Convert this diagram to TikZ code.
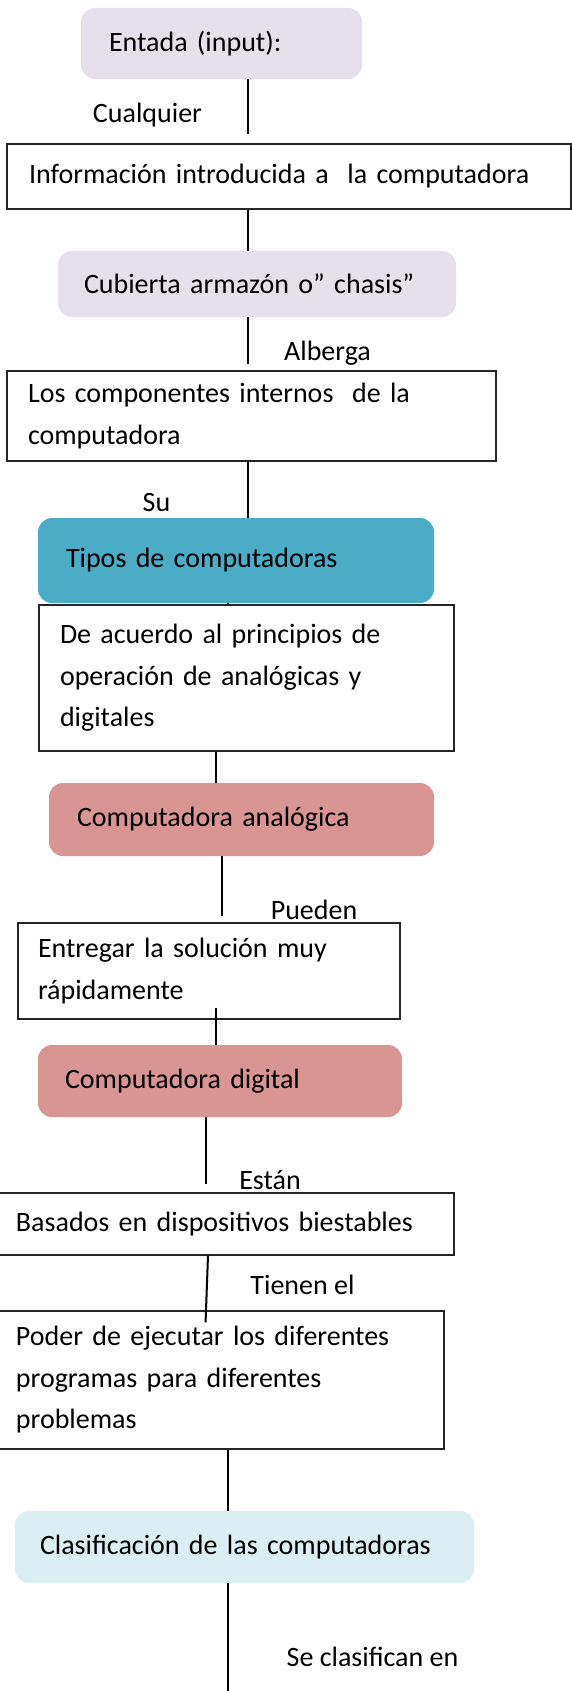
\documentclass[tikz,border=0pt]{standalone}
\usepackage{fontspec}
\setmainfont{Carlito}
\tikzset{
	caja/.style={draw=black!85,line width=0.6pt,align=left,inner ysep=0pt},redondo/.style={rounded corners=7pt,align=left,inner ysep=0pt},
	enlace/.style={draw=black,line width=1pt},etiqueta/.style={inner sep=0pt}
}
\definecolor{Lavanda}{HTML}{E5E0EC}
\definecolor{Turquesa}{HTML}{4BACC6}
\definecolor{Rosa}{HTML}{D99594}
\definecolor{Celeste}{HTML}{DBEEF3}

\begin{document}
\begin{tikzpicture}[x=0.5pt,y=-0.5pt,font=\fontsize{14pt}{20.75pt}\selectfont]
		\useasboundingbox (0,0) rectangle (572,1691);
		\node[redondo,fill=Lavanda,inner xsep=14pt,text width=112.5pt,minimum height=35.5pt] (E) at (221.5,43.5) {Entada (input):};
		\node[caja,inner xsep=11pt,text width=260pt,minimum height=32.5pt] (I) at (289,176.5) {Información introducida a\ \ la computadora};
		\node[redondo,fill=Lavanda,inner xsep=13pt,text width=173pt,minimum height=33pt] (C) at (257,284) {Cubierta armazón o” chasis”};
		\node[caja,inner xsep=10.5pt,text width=223.5pt,minimum height=45pt] (L) at (251.5,416) {Los componentes internos\ \ de la\\computadora};
		\node[redondo,fill=Turquesa,inner xsep=14pt,text width=170pt,minimum height=42.5pt] (T) at (236,560.5) {Tipos de computadoras};
		\node[caja,inner xsep=10.5pt,text width=186.5pt,minimum height=73pt] (A) at (246.5,678) {De acuerdo al principios de\\operación de analógicas y\\digitales};
		\node[redondo,fill=Rosa,inner xsep=14pt,text width=164.5pt,minimum height=36.5pt] (CA) at (241.5,819.5) {Computadora analógica};
		\node[caja,inner xsep=10pt,text width=171pt,minimum height=48pt] (S) at (209,971) {Entregar la solución muy\\rápidamente};
		\node[redondo,fill=Rosa,inner xsep=13.5pt,text width=155pt,minimum height=36pt] (CD) at (220,1081) {Computadora digital};
		\node[caja,inner xsep=8.5pt,text width=210.5pt,minimum height=31pt] (B) at (226.5,1224) {Basados en dispositivos biestables};
		\node[caja,inner xsep=8.5pt,text width=205.5pt,minimum height=69pt] (P) at (221.5,1380) {Poder de ejecutar los diferentes\\programas para diferentes\\problemas};
		\node[redondo,fill=Celeste,inner xsep=12.5pt,text width=204.5pt,minimum height=36pt] (CL) at (244.5,1547) {Clasificación de las computadoras};
		\node[etiqueta] (cualquier) at (147.5,115) {Cualquier};
		\node[etiqueta] (alberga) at (327.5,353) {Alberga};
		\node[etiqueta] (su) at (156.5,503) {Su};
		\node[etiqueta] (pueden) at (314,910) {Pueden};
		\node[etiqueta] (estan) at (270,1180) {Están};
		\node[etiqueta] (tienen) at (302.5,1285) {Tienen el};
		\node[etiqueta] (clasifican) at (372.5,1657) {Se clasifican en};
		\coordinate (fin) at (228,1691);
		\draw[enlace,shorten >=4.5pt] ([xshift=13.25pt]E.south) -- ([xshift=-20.5pt]I.north);
		\draw[enlace] ([xshift=-20.5pt]I.south) -- ([xshift=-4.5pt]C.north);
		\draw[enlace,shorten >=3pt] ([xshift=-4.5pt]C.south) -- ([xshift=-1.75pt]L.north);
		\draw[enlace] ([xshift=-1.75pt]L.south) -- ([xshift=6pt]T.north);
		\draw[enlace] ([xshift=-4pt]T.south) -- ([xshift=-9.25pt]A.north);
		\draw[enlace] ([xshift=-15.25pt]A.south) -- ([xshift=-12.75pt]CA.north);
		\draw[enlace,shorten >=3pt] ([xshift=-9.75pt]CA.south) -- ([xshift=6.5pt]S.north);
		\draw[enlace,shorten <=-6pt] ([xshift=3.5pt]S.south) -- ([xshift=-2pt]CD.north);
		\draw[enlace,shorten >=4pt] ([xshift=-7pt]CD.south) -- ([xshift=-10.25pt]B.north);
		\draw[enlace,shorten >=-6pt] ([xshift=-9.25pt]B.south) -- ([xshift=-7.75pt]P.north);
		\draw[enlace] ([xshift=3.25pt]P.south) -- ([xshift=-8.25pt]CL.north);
		\draw[enlace] ([xshift=-8.25pt]CL.south) -- (fin);
\end{tikzpicture}
\end{document}
